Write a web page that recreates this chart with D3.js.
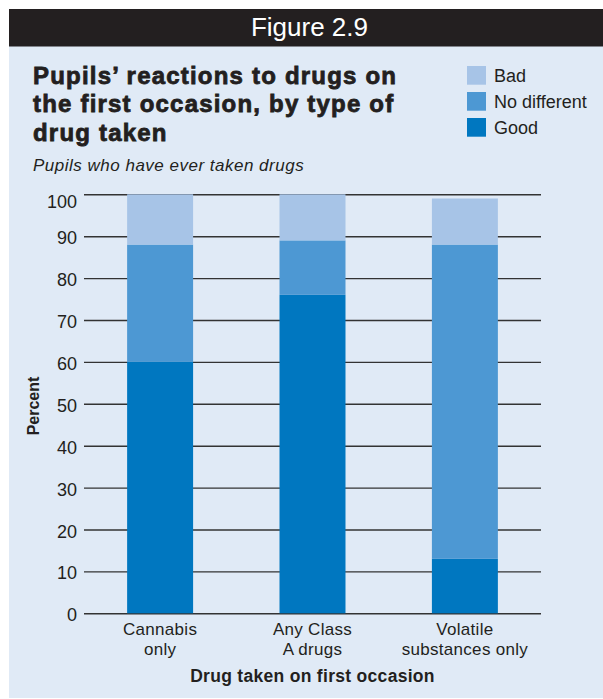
<!DOCTYPE html>
<html>
<head>
<meta charset="utf-8">
<script src="https://cdn.jsdelivr.net/npm/d3@7"></script>
<style>
  body { margin: 0; background: #fff; }
  svg { display: block; font-family: "Liberation Sans", Arial, sans-serif; }
</style>
</head>
<body>
<div id="chart"></div>
<script>
// data
var categories = [["Cannabis", "only"], ["Any Class", "A drugs"], ["Volatile", "substances only"]];
var seriesNames = ["Good", "No different", "Bad"];
var good = [60, 76, 13];
var noDifferent = [28, 13, 75];
var bad = [12, 11, 11];
var yTicks = [0, 10, 20, 30, 40, 50, 60, 70, 80, 90, 100];

var colors = { "Good": "#0077c0", "No different": "#4d98d3", "Bad": "#a7c4e7" };
var ink = "#231f20";

var W = 603, H = 699;
var svg = d3.select("#chart").append("svg")
  .attr("width", W)
  .attr("height", H);

// panel background + header bar
svg.append("rect").attr("x", 9).attr("y", 46).attr("width", W - 9).attr("height", H - 47)
  .attr("fill", "#e0eaf6");
svg.append("rect").attr("x", 9).attr("y", 9).attr("width", W - 9).attr("height", 37.5)
  .attr("fill", ink);
svg.append("text").attr("x", 309.5).attr("y", 36).attr("text-anchor", "middle")
  .attr("fill", "#fff").attr("font-size", 26).text("Figure 2.9");

// title
var title = ["Pupils\u2019 reactions to drugs on", "the first occasion, by type of", "drug taken"];
svg.append("g").selectAll("text").data(title).enter().append("text")
  .attr("x", 33).attr("y", (d, i) => 83.5 + i * 28.8)
  .attr("font-size", 24).attr("font-weight", "bold").attr("letter-spacing", 1.2)
  .attr("fill", ink).attr("stroke", ink).attr("stroke-width", 0.8)
  .text(d => d);

svg.append("text").attr("x", 33).attr("y", 170.7)
  .attr("font-size", 17).attr("font-style", "italic").attr("letter-spacing", 0.5).attr("fill", ink)
  .text("Pupils who have ever taken drugs");

// legend (top to bottom: Bad, No different, Good)
var legend = svg.append("g").selectAll("g").data(seriesNames.slice().reverse()).enter().append("g")
  .attr("transform", (d, i) => "translate(467," + (66 + i * 26) + ")");
legend.append("rect").attr("width", 19).attr("height", 18.7).attr("fill", d => colors[d]);
legend.append("text").attr("x", 27).attr("y", 15.7).attr("font-size", 18).attr("fill", ink).text(d => d);

// scales
var margin = { left: 84, right: 541, top: 194.3, bottom: 613.3 };
var x = d3.scaleBand().domain(d3.range(categories.length))
  .range([margin.left, margin.right]).paddingInner(0.567).paddingOuter(0.283);
var y = d3.scaleLinear().domain([0, 100]).range([margin.bottom, margin.top]);

// grid
var yAxis = d3.axisLeft(y).tickValues(yTicks).tickSize(-(margin.right - margin.left)).tickPadding(7);
var yAxisGroup = svg.append("g").attr("transform", "translate(" + margin.left + ",0)").call(yAxis);
yAxisGroup.select(".domain").remove();
yAxisGroup.selectAll("line").attr("stroke", "#333").attr("stroke-width", 1.4);
yAxisGroup.selectAll("text").attr("font-size", 18).attr("fill", ink)
  .attr("font-family", "Liberation Sans, Arial, sans-serif")
  .attr("dy", d => d === 100 ? "0.72em" : "0.42em");

// stacked bars
var rows = categories.map((c, i) => ({ i: i, "Good": good[i], "No different": noDifferent[i], "Bad": bad[i] }));
var stack = d3.stack().keys(seriesNames)(rows);
svg.append("g").selectAll("g").data(stack).enter().append("g")
  .attr("fill", d => colors[d.key])
  .selectAll("rect").data(d => d).enter().append("rect")
  .attr("x", d => x(d.data.i))
  .attr("width", x.bandwidth())
  .attr("y", d => y(d[1]))
  .attr("height", d => y(d[0]) - y(d[1]));

// x labels, one text per line
var xl = svg.append("g").selectAll("g").data(categories).enter().append("g")
  .attr("transform", (d, i) => "translate(" + (x(i) + x.bandwidth() / 2) + ",0)");
xl.selectAll("text").data(d => d).enter().append("text")
  .attr("y", (d, i) => 635 + i * 19.6)
  .attr("text-anchor", "middle").attr("font-size", 17).attr("letter-spacing", 0.3).attr("fill", ink)
  .text(d => d);

svg.append("text").attr("x", (margin.left + margin.right) / 2).attr("y", 682).attr("text-anchor", "middle")
  .attr("font-size", 17.5).attr("font-weight", "bold").attr("letter-spacing", 0.3).attr("fill", ink)
  .text("Drug taken on first occasion");

svg.append("text").attr("transform", "translate(39,406) rotate(-90)")
  .attr("text-anchor", "middle").attr("font-size", 16).attr("font-weight", "bold").attr("fill", ink)
  .text("Percent");
</script>
</body>
</html>
